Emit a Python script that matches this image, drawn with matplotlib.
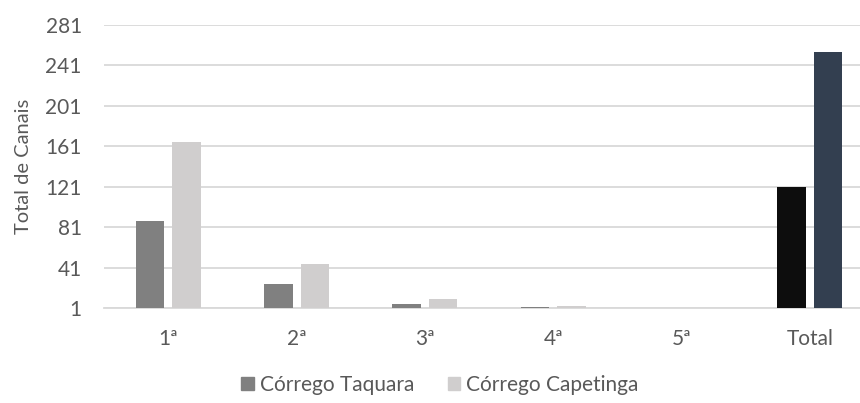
import matplotlib.pyplot as plt
import numpy as np

categorias = ['1ª', '2ª', '3ª', '4ª', '5ª', 'Total']
taquara = [87, 25, 5, 2, 1, 121]
capetinga = [165, 45, 10, 3, 1, 254]
cores_taquara = ['#808080'] * 5 + ['#0d0d0d']
cores_capetinga = ['#d0cece'] * 5 + ['#333f50']
yticks = [1, 41, 81, 121, 161, 201, 241, 281]

plt.rcParams['font.family'] = ['Lato', 'DejaVu Sans']

fig = plt.figure(figsize=(8.6, 4.03), dpi=100)
ax = fig.add_axes([104 / 860, 95 / 403, 756 / 860, 283 / 403])

x = np.arange(len(categorias))
w = 0.222
off = 0.142
base = yticks[0]
ax.bar(x - off, np.array(taquara) - base, w, bottom=base, color=cores_taquara, zorder=3)
ax.bar(x + off, np.array(capetinga) - base, w, bottom=base, color=cores_capetinga, zorder=3)

ax.set_xlim(-0.5, 5.39)
ax.set_ylim(1, 281)
ax.set_yticks(yticks)
ax.set_xticks(x)
ax.set_xticklabels(categorias)
ax.grid(axis='y', color='#d9d9d9', linewidth=1.3, zorder=0)
for s in ['top', 'right', 'left']:
    ax.spines[s].set_visible(False)
ax.spines['bottom'].set_color('#d9d9d9')
ax.spines['bottom'].set_linewidth(1.3)
ax.tick_params(axis='both', length=0, labelsize=15, labelcolor='#595959')
ax.tick_params(axis='x', pad=15)
ax.tick_params(axis='y', pad=16)
ax.set_ylabel('Total de Canais', fontsize=14.5, color='#595959')
ax.yaxis.set_label_coords(-72 / 756, 0.5)

h1 = plt.Rectangle((0, 0), 1, 1, color='#808080')
h2 = plt.Rectangle((0, 0), 1, 1, color='#d0cece')
leg = fig.legend([h1, h2], ['Córrego Taquara', 'Córrego Capetinga'], loc='center',
                 bbox_to_anchor=(440 / 860, 18 / 403), ncol=2, frameon=False,
                 fontsize=15, handlelength=0.6, handleheight=0.6, handletextpad=0.3,
                 columnspacing=1.6)
for t in leg.get_texts():
    t.set_color('#595959')

fig.savefig('out.png', dpi=100)
